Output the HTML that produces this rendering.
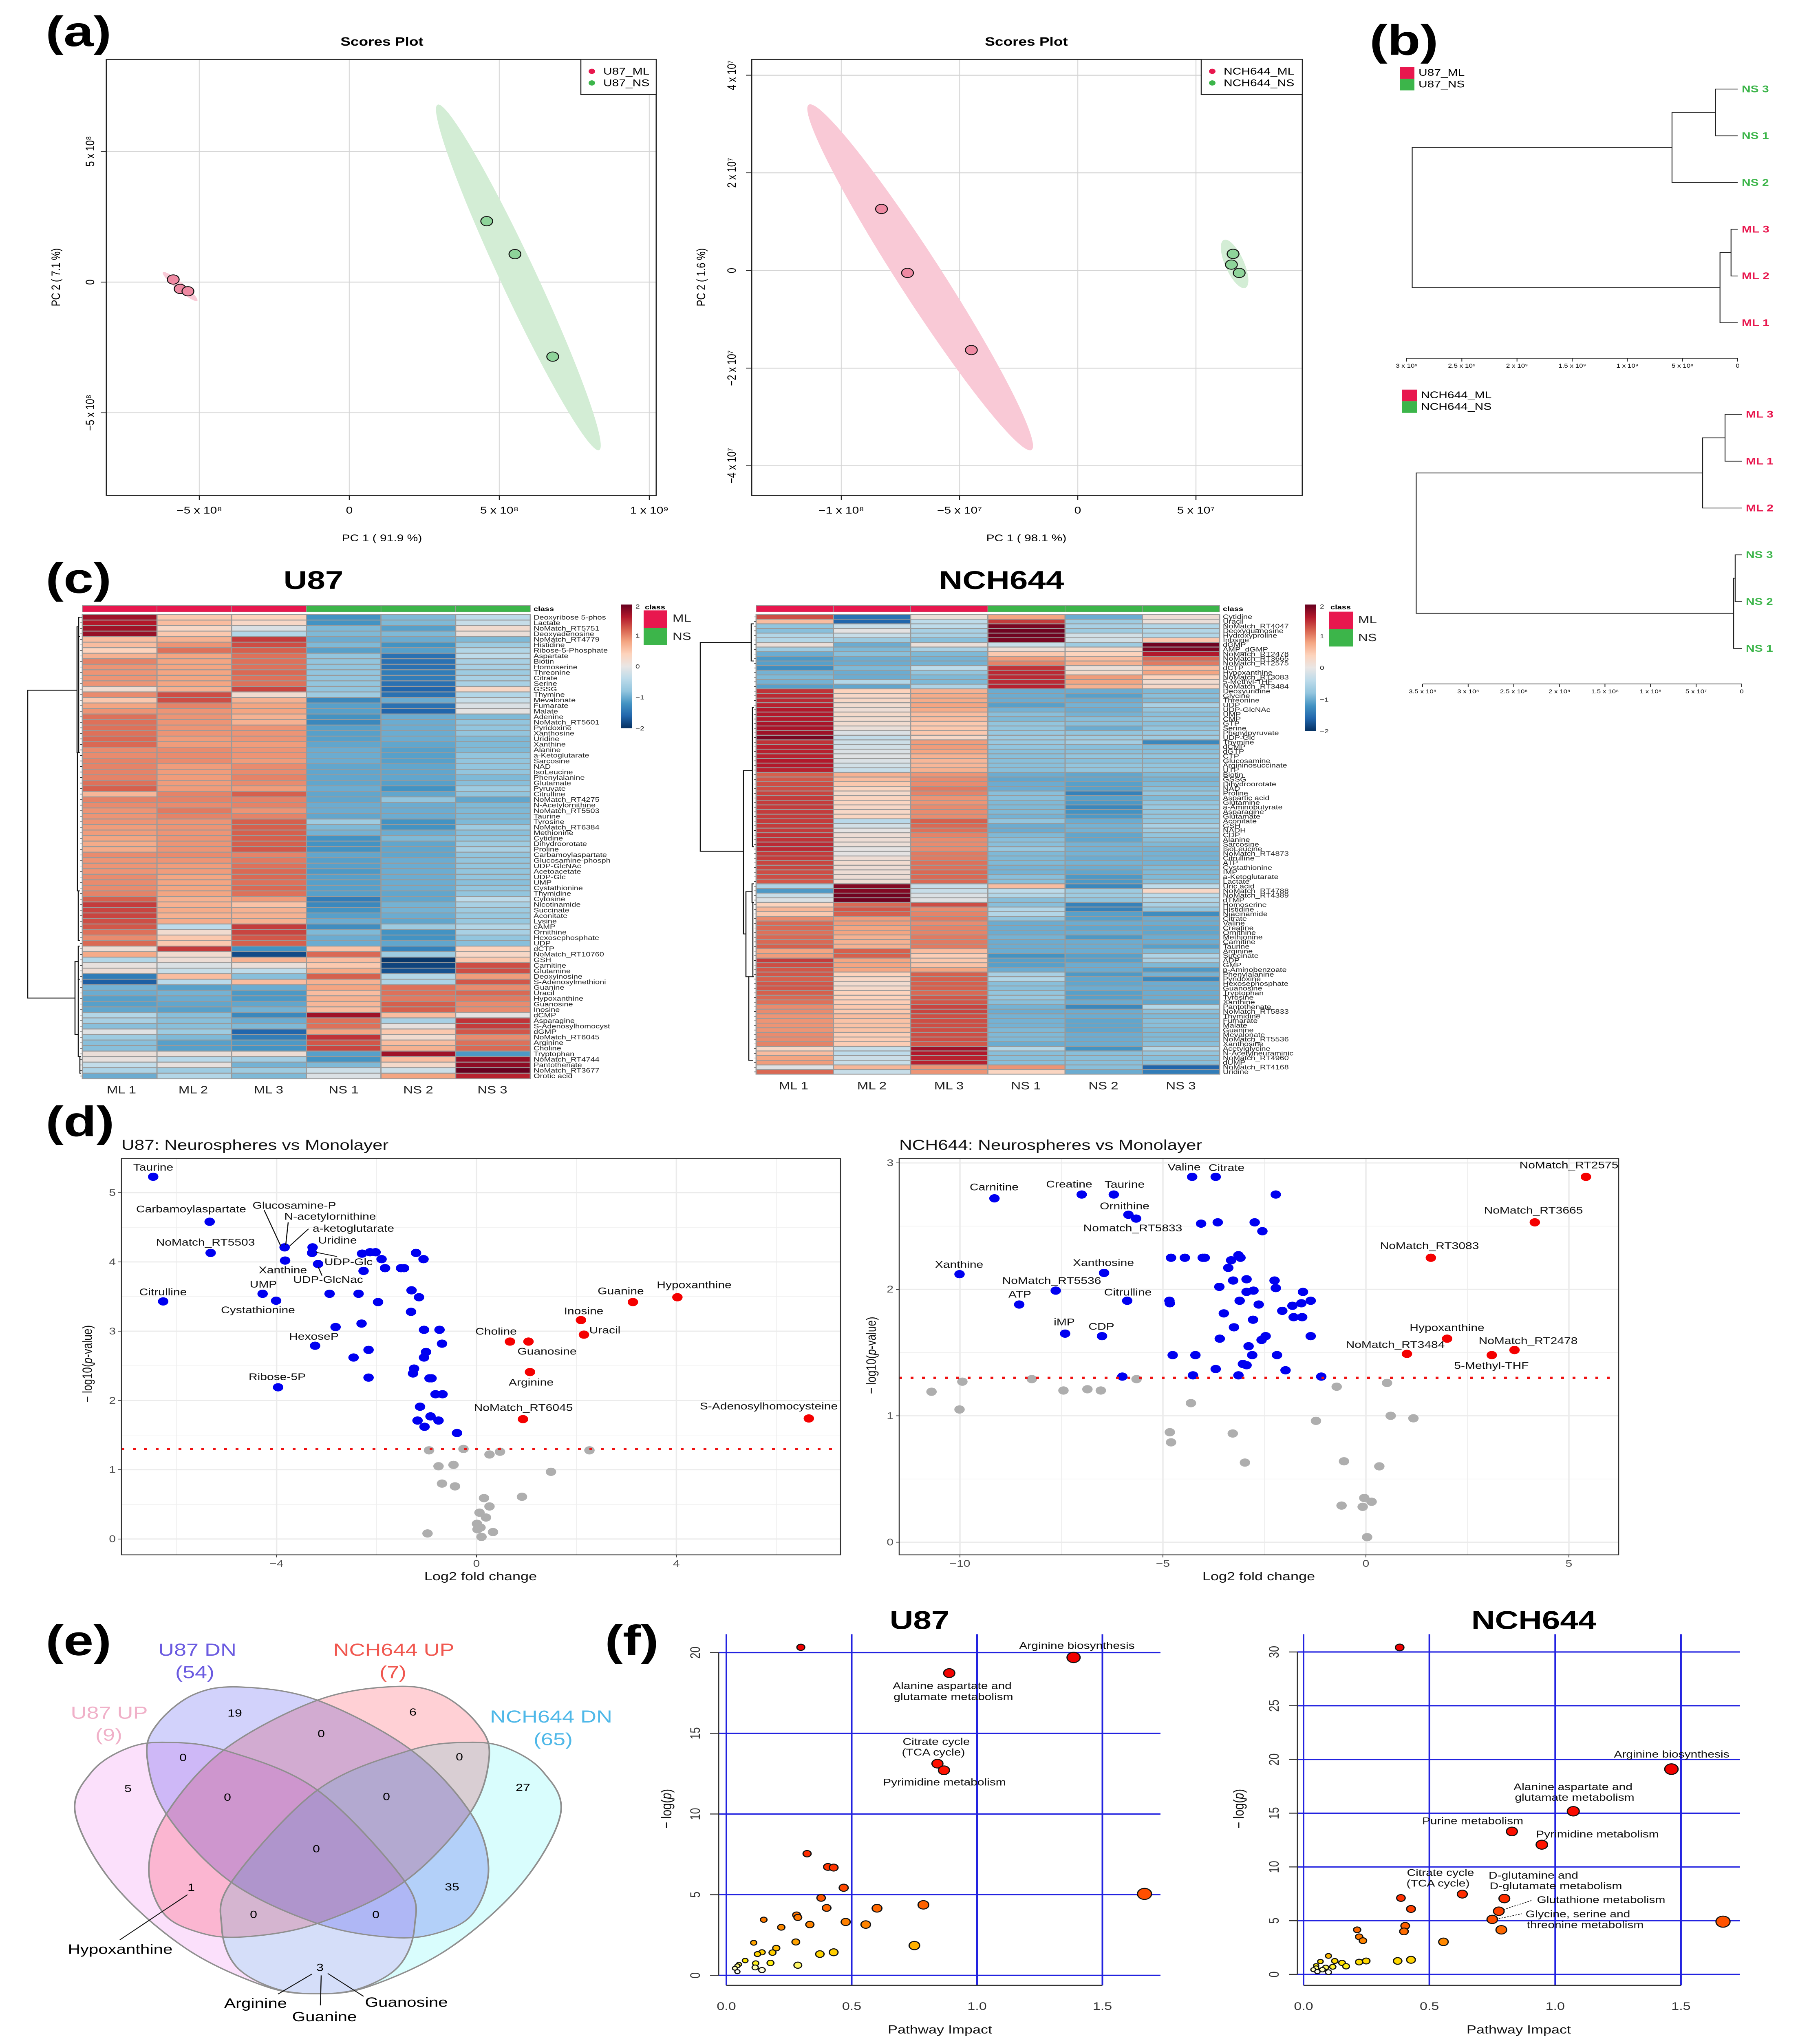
<!DOCTYPE html>
<html lang="en">
<head>
<meta charset="utf-8">
<title>Metabolomics figure</title>
<style>
html,body{margin:0;padding:0;background:#fff;width:100%;height:100%;overflow:hidden}
svg{display:block;width:100vw;height:100vh}
text{font-family:"Liberation Sans",sans-serif;dominant-baseline:central;fill:#000}
.panel{font-size:132px;font-weight:700}
.cell-title{font-size:80px;font-weight:700;text-anchor:middle}
.volc{font-size:30px;text-anchor:middle;fill:#111}
.volc-title{font-size:44px;fill:#111}
.volc-axis{font-size:36px;text-anchor:middle;fill:#111}
.venn-count{font-size:32px;text-anchor:middle}
.venn-set{font-size:54px;text-anchor:middle}
.venn-note{font-size:42px;text-anchor:middle}
.path-label{font-size:30px;text-anchor:middle;fill:#111}
.lead{stroke:#111;stroke-width:2.5;fill:none}
</style>
</head>
<body>
<svg id="figure" xmlns="http://www.w3.org/2000/svg" viewBox="0 0 4465 6314" preserveAspectRatio="none">
<defs>
<linearGradient id="rdbu" x1="0" y1="0" x2="0" y2="1">
<stop offset="0" stop-color="#67001f"/><stop offset=".1" stop-color="#b2182b"/><stop offset=".2" stop-color="#d6604d"/><stop offset=".3" stop-color="#f4a582"/><stop offset=".4" stop-color="#fdd3bc"/><stop offset=".5" stop-color="#e9e6e5"/><stop offset=".6" stop-color="#bddbea"/><stop offset=".7" stop-color="#92c5de"/><stop offset=".8" stop-color="#4393c3"/><stop offset=".9" stop-color="#2166ac"/><stop offset="1" stop-color="#053061"/>
</linearGradient>
</defs>
<rect width="4465" height="6314" fill="#fff"/>
<g id="charts"></g>

<text class="panel" x="112" y="98">(a)</text>
<text class="panel" x="3360" y="125">(b)</text>
<text class="panel" x="112" y="1792">(c)</text>
<text class="panel" x="112" y="3475">(d)</text>
<text class="panel" x="112" y="5083">(e)</text>
<text class="panel" x="1484" y="5083">(f)</text>

<text class="cell-title" x="769" y="1798">U87</text>
<text class="cell-title" x="2457" y="1798">NCH644</text>
<text class="cell-title" x="2256" y="5020">U87</text>
<text class="cell-title" x="3763" y="5020">NCH644</text>

<g>
<text class="volc-title" x="298" y="3548">U87: Neurospheres vs Monolayer</text>
<text class="volc-axis" x="1179" y="4884">Log2 fold change</text>
<text class="volc-axis" style="font-size:33px" transform="translate(215 4225) rotate(-90)">− log10(<tspan font-style="italic">p</tspan>-value)</text>
<path class="lead" d="M648 3749L689 3861M707 3787L701 3857M757 3807L710 3861M776 3880L827 3893M781 3926L790 3952"/>
<text class="volc" x="376" y="3617">Taurine</text>
<text class="volc" x="469" y="3746">Carbamoylaspartate</text>
<text class="volc" x="722" y="3735">Glucosamine-P</text>
<text class="volc" x="810" y="3769">N-acetylornithine</text>
<text class="volc" x="867" y="3806">a-ketoglutarate</text>
<text class="volc" x="828" y="3843">Uridine</text>
<text class="volc" x="504" y="3849">NoMatch_RT5503</text>
<text class="volc" x="855" y="3910">UDP-Glc</text>
<text class="volc" x="694" y="3935">Xanthine</text>
<text class="volc" x="805" y="3965">UDP-GlcNac</text>
<text class="volc" x="646" y="3979">UMP</text>
<text class="volc" x="400" y="4003">Citrulline</text>
<text class="volc" x="633" y="4059">Cystathionine</text>
<text class="volc" x="1703" y="3981">Hypoxanthine</text>
<text class="volc" x="1523" y="4000">Guanine</text>
<text class="volc" x="1432" y="4062">Inosine</text>
<text class="volc" x="1484" y="4121">Uracil</text>
<text class="volc" x="1217" y="4125">Choline</text>
<text class="volc" x="1342" y="4187">Guanosine</text>
<text class="volc" x="770" y="4141">HexoseP</text>
<text class="volc" x="680" y="4266">Ribose-5P</text>
<text class="volc" x="1303" y="4283">Arginine</text>
<text class="volc" x="1284" y="4361">NoMatch_RT6045</text>
<text class="volc" x="1886" y="4357">S-Adenosylhomocysteine</text>
</g>

<g>
<text class="volc-title" x="2206" y="3548">NCH644: Neurospheres vs Monolayer</text>
<text class="volc-axis" x="3088" y="4884">Log2 fold change</text>
<text class="volc-axis" style="font-size:33px" transform="translate(2138 4199) rotate(-90)">− log10(<tspan font-style="italic">p</tspan>-value)</text>
<text class="volc" x="2905" y="3616">Valine</text>
<text class="volc" x="3009" y="3618">Citrate</text>
<text class="volc" x="3849" y="3610">NoMatch_RT2575</text>
<text class="volc" x="2439" y="3678">Carnitine</text>
<text class="volc" x="2623" y="3669">Creatine</text>
<text class="volc" x="2759" y="3670">Taurine</text>
<text class="volc" x="2759" y="3737">Ornithine</text>
<text class="volc" x="3762" y="3750">NoMatch_RT3665</text>
<text class="volc" x="2779" y="3805">Nomatch_RT5833</text>
<text class="volc" x="3507" y="3860">NoMatch_RT3083</text>
<text class="volc" x="2707" y="3912">Xanthosine</text>
<text class="volc" x="2353" y="3918">Xanthine</text>
<text class="volc" x="2580" y="3968">NoMatch_RT5536</text>
<text class="volc" x="2502" y="4010">ATP</text>
<text class="volc" x="2767" y="4004">Citrulline</text>
<text class="volc" x="2611" y="4096">iMP</text>
<text class="volc" x="2702" y="4110">CDP</text>
<text class="volc" x="3550" y="4114">Hypoxanthine</text>
<text class="volc" x="3749" y="4154">NoMatch_RT2478</text>
<text class="volc" x="3423" y="4166">NoMatch_RT3484</text>
<text class="volc" x="3659" y="4231">5-Methyl-THF</text>
</g>

<g>
<text class="venn-set" x="484" y="5112" style="fill:#6a5ae0">U87 DN</text>
<text class="venn-set" x="478" y="5181" style="fill:#6a5ae0">(54)</text>
<text class="venn-set" x="966" y="5112" style="fill:#f0574f">NCH644 UP</text>
<text class="venn-set" x="964" y="5181" style="fill:#f0574f">(7)</text>
<text class="venn-set" x="268" y="5307" style="fill:#f0b0c8">U87 UP</text>
<text class="venn-set" x="267" y="5375" style="fill:#f0b0c8">(9)</text>
<text class="venn-set" x="1352" y="5319" style="fill:#4fb8e8">NCH644 DN</text>
<text class="venn-set" x="1357" y="5389" style="fill:#4fb8e8">(65)</text>
<text class="venn-count" x="576" y="5308">19</text>
<text class="venn-count" x="1013" y="5305">6</text>
<text class="venn-count" x="788" y="5372">0</text>
<text class="venn-count" x="449" y="5446">0</text>
<text class="venn-count" x="1127" y="5444">0</text>
<text class="venn-count" x="314" y="5542">5</text>
<text class="venn-count" x="1283" y="5539">27</text>
<text class="venn-count" x="558" y="5569">0</text>
<text class="venn-count" x="948" y="5567">0</text>
<text class="venn-count" x="776" y="5729">0</text>
<text class="venn-count" x="469" y="5848">1</text>
<text class="venn-count" x="1109" y="5847">35</text>
<text class="venn-count" x="622" y="5932">0</text>
<text class="venn-count" x="922" y="5933">0</text>
<text class="venn-count" x="785" y="6096">3</text>
<path class="lead" d="M460 5870L294 6010M765 6116L682 6178M788 6120L786 6213M804 6114L892 6185"/>
<text class="venn-note" x="295" y="6040">Hypoxanthine</text>
<text class="venn-note" x="627" y="6207">Arginine</text>
<text class="venn-note" x="796" y="6249">Guanine</text>
<text class="venn-note" x="997" y="6204">Guanosine</text>
</g>

<g>
<text class="path-label" x="2642" y="5099">Arginine biosynthesis</text>
<text class="path-label" x="2336" y="5223">Alanine aspartate and</text>
<text class="path-label" x="2339" y="5257">glutamate metabolism</text>
<text class="path-label" x="2297" y="5396">Citrate cycle</text>
<text class="path-label" x="2290" y="5429">(TCA cycle)</text>
<text class="path-label" x="2317" y="5522">Pyrimidine metabolism</text>
<text class="volc-axis" x="2306" y="6288">Pathway Impact</text>
<text class="volc-axis" transform="translate(1635 5604) rotate(-90)">− log(<tspan font-style="italic">p</tspan>)</text>
</g>
<g>
<text class="path-label" x="4101" y="5435">Arginine biosynthesis</text>
<text class="path-label" x="3859" y="5536">Alanine aspartate and</text>
<text class="path-label" x="3863" y="5569">glutamate metabolism</text>
<text class="path-label" x="3613" y="5642">Purine metabolism</text>
<text class="path-label" x="3919" y="5683">Pyrimidine metabolism</text>
<text class="path-label" x="3534" y="5802">Citrate cycle</text>
<text class="path-label" x="3528" y="5835">(TCA cycle)</text>
<text class="path-label" x="3762" y="5810">D-glutamine and</text>
<text class="path-label" x="3817" y="5843">D-glutamate metabolism</text>
<text class="path-label" x="3928" y="5886">Glutathione metabolism</text>
<text class="path-label" x="3871" y="5930">Glycine, serine and</text>
<text class="path-label" x="3889" y="5964">threonine metabolism</text>
<path d="M3689 5916L3757 5888M3670 5946L3734 5929" stroke="#111" stroke-width="2" stroke-dasharray="4 3" fill="none"/>
<text class="volc-axis" x="3726" y="6288">Pathway Impact</text>
<text class="volc-axis" transform="translate(3039 5604) rotate(-90)">− log(<tspan font-style="italic">p</tspan>)</text>
</g>
</svg>

<script>
/* ---------- PCA data ---------- */
const u87MlPc1=[-5.87e8,-5.64e8,-5.38e8];
const u87MlPc2=[0.10e8,-0.26e8,-0.35e8];
const u87NsPc1=[4.58e8,5.52e8,6.78e8];
const u87NsPc2=[2.33e8,1.07e8,-2.85e8];
const u87EllipseMl=[-6.21e8,0.38e8,-5.07e8,-0.72e8,0.18];
const u87EllipseNs=[2.95e8,6.79e8,8.32e8,-6.43e8,0.079];
const u87PcXTicks=[-5e8,0,5e8,1e9];
const u87PcYTicks=[5e8,0,-5e8];
const nchMlPc1=[-8.3e7,-7.2e7,-4.5e7];
const nchMlPc2=[1.26e7,-0.05e7,-1.63e7];
const nchNsPc1=[6.57e7,6.5e7,6.83e7];
const nchNsPc2=[0.34e7,0.12e7,-0.05e7];
const nchEllipseMl=[-11.36e7,3.4e7,-1.97e7,-3.68e7,0.093];
const nchEllipseNs=[6.2e7,0.63e7,7.07e7,-0.36e7,0.3];
const nchPcXTicks=[-1e8,-5e7,0,5e7];
const nchPcYTicks=[4e7,2e7,0,-2e7,-4e7];

/* ---------- Dendrogram data ---------- */
const u87DendroLeaves=['NS 3','NS 1','NS 2','ML 3','ML 2','ML 1'];
const u87DendroMerges=[[0,1],[6,2],[3,4],[8,5],[7,9]];
const u87DendroHeights=[2e8,5.95e8,0.6e8,1.6e8,2.95e9];
const u87DendroTicks=[3e9,2.5e9,2e9,1.5e9,1e9,5e8,0];
const nchDendroLeaves=['ML 3','ML 1','ML 2','NS 3','NS 2','NS 1'];
const nchDendroMerges=[[0,1],[6,2],[3,4],[8,5],[7,9]];
const nchDendroHeights=[1.83e7,4.29e7,0.72e7,0.89e7,3.57e8];
const nchDendroTicks=[3.5e8,3e8,2.5e8,2e8,1.5e8,1e8,5e7,0];

/* ---------- Heatmap data ---------- */
const heatColumnsU87=['ML 1','ML 2','ML 3','NS 1','NS 2','NS 3'];
const heatRowsU87=['Deoxyribose 5-phos','Lactate','NoMatch_RT5751','Deoxyadenosine','NoMatch_RT4779','Histidine','Ribose-5-Phosphate','Aspartate','Biotin','Homoserine','Threonine','Citrate','Serine','GSSG','Thymine','Mevalonate','Fumarate','Malate','Adenine','NoMatch_RT5601','Pyridoxine','Xanthosine','Uridine','Xanthine','Alanine','a-Ketoglutarate','Sarcosine','NAD','IsoLeucine','Phenylalanine','Glutamate','Pyruvate','Citrulline','NoMatch_RT4275','N-Acetylornithine','NoMatch_RT5503','Taurine','Tyrosine','NoMatch_RT6384','Methionine','Cytidine','Dihydroorotate','Proline','Carbamoylaspartate','Glucosamine-phosph','UDP-GlcNAc','Acetoacetate','UDP-Glc','UMP','Cystathionine','Thymidine','Cytosine','Nicotinamide','Succinate','Aconitate','Lysine','cAMP','Ornithine','Hexosephosphate','UDP','dCTP','NoMatch_RT10760','GSH','Carnitine','Glutamine','Deoxyinosine','S-Adenosylmethioni','Guanine','Uracil','Hypoxanthine','Guanosine','Inosine','dCMP','Asparagine','S-Adenosylhomocyst','dGMP','NoMatch_RT6045','Arginine','Choline','Tryptophan','NoMatch_RT4744','Pantothenate','NoMatch_RT3677','Orotic acid'];
const heatValuesU87=[
[1.7,.5,.4,-1.2,-.9,-.4],[1.6,.6,.3,-1.2,-.9,-.3],[1.7,.3,-.1,-.9,-1.1,.2],[1.75,.5,-.5,-.9,-.9,.1],[.6,.7,1.4,-1,-1,-.9],[.6,.9,1.3,-.9,-1.2,-.7],[.4,1.1,1.2,-1.1,-1.1,-.5],[.7,.8,1.1,-.8,-1.5,-.4],[1,.8,1.1,-.8,-1.5,-.6],[.9,.8,1.1,-.8,-1.5,-.6],[.9,.8,1.15,-.8,-1.4,-.7],[.9,.8,1.1,-.8,-1.4,-.6],[.9,.8,1.1,-.8,-1.5,-.6],[.2,.7,1.35,-.8,-1.6,.3],[.95,1.3,.2,-.7,-1.5,-.5],[.5,1.3,.7,-1.3,-1,-.3],[.8,1,.8,-1.1,-1.5,-.1],[.9,.9,.8,-1.1,-1.6,0],[1.1,.9,.7,-1.2,-1,-.9],[1.1,.9,.7,-1.3,-1,-.8],[1.1,.9,.9,-1.1,-1,-.8],[1.1,.9,.9,-1.1,-1,-.8],[1.15,.85,.9,-1.1,-1,-.9],[1.15,.85,.85,-1.05,-1.05,-.9],[.95,.95,.9,-1,-1.1,-.9],[.95,.95,.9,-1,-1.1,-.8],[1,.95,.85,-1,-1.1,-.8],[1,.85,.95,-1.05,-1.05,-.8],[1,.85,.95,-1.05,-1.05,-.8],[1,.85,1,-1.05,-1.05,-.9],[1.1,.85,.95,-1.05,-1.1,-.85],[1.2,.85,.85,-1,-1.2,-.7],[.65,1,1.2,-1.05,-1.05,-.8],[1,1,1,-1.05,-.8,-1.05],[.95,.95,1,-1,-1,-.9],[.9,1.05,.9,-1,-1,-.9],[.9,1,1,-1.05,-1,-.9],[.9,.9,1.2,-.7,-1.2,-.9],[.85,.9,1.2,-.9,-1.2,-.7],[.85,.9,1.2,-.95,-1,-.85],[.8,.9,1.2,-1.2,-.9,-.8],[.75,.9,1.2,-1.2,-1.05,-.7],[.75,.9,1.25,-1.2,-1.05,-.6],[.95,.95,1,-1.05,-1.05,-.8],[.9,.9,1.05,-1.1,-1,-.8],[.9,.85,1.1,-1.1,-1,-.8],[.9,.85,1.15,-1.15,-1,-.8],[.95,.8,1.15,-1.1,-1,-.8],[.95,.8,1.1,-1.1,-1,-.85],[.95,.8,1.15,-1.1,-1,-.8],[1,.8,1.1,-1.1,-1.05,-.8],[1.2,.7,.85,-1.4,-1.05,-.4],[1.4,.7,.55,-1.3,-.95,-.6],[1.35,.75,.7,-1.2,-.95,-.7],[1.35,.7,.7,-1.1,-1,-.75],[1.3,.75,.7,-1,-1.05,-.75],[1.25,-.4,1.4,-1.25,-.7,-.5],[1.1,.2,1.35,-.9,-1.2,-.6],[.95,.5,1.25,-1,-1.2,-.8],[1.15,.5,1.2,-1,-1.05,-.85],[.15,1.4,-1.2,.55,-1.35,.4],[.75,.2,-1.8,1.15,-.7,.3],[-.5,.15,.7,.6,-1.95,.5],[.05,-.1,.1,.5,-1.85,1.3],[.15,-.3,-.4,.75,-1.75,1.3],[-1.4,.6,-.85,1.2,-.5,.85],[-1.65,-.45,.6,.7,-.55,1.25],[-.95,-1.1,-1,.8,1.1,.95],[-1,-.95,-1.15,.6,1.1,1.15],[-1.1,-1,-1.15,.7,1.05,1.05],[-1.1,-1.05,-1.05,.65,1.2,.95],[-1.05,-1.1,-.95,.6,1.2,.95],[-.5,-.85,-1.3,1.7,.6,0],[-.6,-.85,-1,1.1,-.6,1.45],[-.85,-.85,-.9,1.1,.05,1.4],[-.05,-.7,-1.6,.8,.5,1.25],[-.7,-.9,-1.4,1.45,.2,.95],[-.85,-1.1,-1.15,1.25,.6,1.1],[-.85,-1.1,-1.2,1.35,.7,1.15],[.1,.1,.15,-1.1,1.7,-1.15],[.05,-.45,-.65,-1.2,.6,1.75],[-.35,.05,-.95,-.9,.25,1.8],[-.55,-.7,-.7,-.25,-.25,2],[-1,-.5,-.9,-.1,.8,1.55]];
const heatRowsNch=['Cytidine','Uracil','NoMatch_RT4047','Deoxyguanosine','Hydroxyproline','Inosine','dGMP','AMP_dGMP','NoMatch_RT2478','NoMatch_RT3665','NoMatch_RT2575','dCTP','Hypoxanthine','NoMatch_RT3083','5-Methyl-THF','NoMatch_RT3484','Deoxyuridine','Glycine','Threonine','UDP','UDP-GlcNAc','UMP','CMP','GTP','Serine','Phenylpyruvate','UDP-Glc','Thymine','dCMP','dGTP','CTP','Glucosamine','Argininosuccinate','UTP','Biotin','GSSG','Dihydroorotate','NAD','Proline','Aspartic acid','Glutamine','a-Aminobutyrate','Asparagine','Glutamate','Aconitate','GSH','NADH','CDP','Alanine','Sarcosine','IsoLeucine','NoMatch_RT4873','Citrulline','ATP','Cystathionine','IMP','a-Ketoglutarate','Lactate','Uric acid','NoMatch_RT4788','NoMatch_RT4389','dTMP','Homoserine','Histidine','Niacinamide','Citrate','Valine','Creatine','Ornithine','Methionine','Carnitine','Taurine','Arginine','Succinate','ADP','GMP','p-Aminobenzoate','Phenylalanine','Pyridoxine','Hexosephosphate','Guanosine','Tryptophan','Tyrosine','Xanthine','Pantothenate','NoMatch_RT5833','Thymidine','Fumarate','Malate','Guanine','Mevalonate','NoMatch_RT5536','Xanthosine','Acetylglycine','N-Acetylneuraminic','NoMatch_RT4960','dUMP','NoMatch_RT4168','Uridine'];
const heatValuesNch=[
[1.3,-1.5,.1,.8,-1,.15],[.6,-1.6,-.4,1.4,-.7,.1],[-.8,-.3,-.4,1.9,-.6,-.5],[-.85,0,-.6,1.95,-.7,-.5],[-.5,-.3,-.6,1.95,-.2,-.5],[-.5,-.7,-.85,1.9,-.2,.5],[.1,-1,.1,-.3,-.7,1.95],[-.7,-.9,-.6,.15,.25,1.9],[-1,-.85,-.9,.5,.4,1.6],[-1.15,-1,-.95,.85,.6,1.15],[-1.1,-1,-.95,1,.7,1.05],[-1.25,-.9,-.4,1.45,.1,.6],[-.95,-1,-.8,1.5,.25,.8],[-.9,-1,-.9,1.5,.85,.4],[-.95,-.5,-.9,1.5,.8,.2],[-1.1,-1.05,-.55,1.55,.7,.3],[1.45,.4,.7,-1,-1,-.9],[1.5,.3,.75,-1,-1.1,-.85],[1.5,.3,.75,-1,-1,-.9],[1.55,.2,.8,-1.1,-.95,-.6],[1.6,.15,.75,-.95,-1,-.8],[1.6,.25,.6,-.85,-.95,-.85],[1.6,.2,.6,-.9,-.85,-.8],[1.65,.2,.5,-.8,-.85,-.85],[1.65,.1,.5,-.8,-1,-.8],[1.7,-.1,.5,-.75,-.8,-.75],[1.9,-.35,.3,-.7,-.7,-.7],[1.45,-.25,.85,-.75,-.65,-1.3],[1.55,-.2,.85,-.8,-.85,-.9],[1.55,-.1,.8,-.85,-.85,-.85],[1.55,-.05,.7,-.85,-.8,-.8],[1.6,-.1,.65,-.85,-.85,-.85],[1.6,-.2,.65,-.85,-.8,-.8],[1.55,-.3,.7,-.85,-.8,-.8],[1.2,.7,.9,-1,-1.05,-.9],[1.25,.6,.95,-1.05,-1.05,-.95],[1.3,.5,.95,-1,-1.1,-.9],[1.3,.35,1.05,-1,-1.1,-.85],[1.35,.25,1,-.85,-1.35,-.8],[1.4,.35,.9,-.85,-1.1,-.9],[1.4,.35,.9,-.9,-1.15,-.8],[1.4,.3,.95,-.9,-1.3,-.75],[1.4,.3,.95,-.9,-1.2,-.8],[1.4,.35,.95,-.95,-1.15,-.8],[1.4,-.45,1.2,-.8,-1,-.8],[1.4,-.2,1.15,-1,-.95,-.6],[1.4,0,1.1,-1,-.95,-.7],[1.45,.15,1,-.9,-1.05,-.8],[1.45,.15,.95,-.85,-1.05,-.85],[1.5,.12,.95,-.85,-.95,-.9],[1.5,0,.95,-.75,-.95,-.95],[1.4,0,1.05,-.9,-.95,-.95],[1.4,.15,1.05,-.9,-1,-.95],[1.35,.2,1.1,-.9,-.95,-.95],[1.35,.15,1.1,-.95,-1,-.9],[1.3,.15,1.15,-.95,-1.05,-.9],[1.3,.15,1.15,-.85,-1.15,-.9],[1.25,.15,1.15,-.85,-1.15,-.85],[-.55,1.85,-.3,.6,-1.3,-.4],[-1.15,1.85,-.3,-.4,-.7,.3],[-.3,1.95,-.1,-.5,-.7,-.4],[-.1,1.95,-.05,-.85,-.8,-.5],[.4,1.15,1.3,-.85,-1.35,-.6],[.65,1.25,.95,-.5,-1.35,-.8],[.5,1.2,1,-.5,-1.1,-1.25],[.95,.85,1.05,-.8,-1.1,-1],[1.15,.85,.95,-1,-1,-1],[1.15,.8,1,-1,-1.05,-1.05],[1.1,.8,1,-1,-1,-1.05],[1.15,.7,1.05,-.95,-1.15,-1],[1.15,.7,1.05,-1,-1,-1],[1.2,.7,1.05,-1,-1,-1.1],[.8,1.2,.6,-1,-1,-.9],[.85,1.2,.45,-1.2,-1.1,-.55],[1.4,.8,.5,-1.1,-1.1,-.6],[1.3,.8,.55,-1.1,-1,-.9],[1.25,.8,.8,-1,-1,-1.15],[1.25,.4,1.2,-.6,-1.15,-.95],[1.2,.3,1.2,-.5,-1.05,-1.3],[1.25,.2,1.2,-.85,-1.05,-1],[1.25,.25,1.2,-.85,-1,-1],[1.2,.4,1.15,-.8,-1.1,-1],[1.15,.4,1.25,-.75,-1.1,-1],[1.1,.45,1.25,-.85,-1,-1.05],[.95,.5,1.35,-.95,-1.3,-.5],[.95,.5,1.35,-1,-1,-.85],[.9,.6,1.3,-.95,-1,-.9],[.9,.55,1.3,-.95,-1.05,-.85],[.9,.55,1.3,-.95,-1.05,-.85],[.9,.55,1.3,-.9,-1.05,-.9],[.95,.45,1.3,-.9,-1,-.9],[.95,.45,1.3,-.9,-1,-.9],[1,.45,1.25,-1,-1,-.85],[.3,-.3,1.7,-.5,-1.2,-.5],[.6,-.4,1.6,-.85,-.85,-.8],[.8,-.25,1.55,-.85,-.85,-.85],[.85,-.3,1.55,-.85,-.85,-.85],[-.05,.65,.9,.9,-.85,-1.6],[1.15,-.3,.9,.35,-1,-1.4]];
const colorbarTicks=[2,1,0,-1,-2];

/* ---------- Volcano data: [log2 fold change, -log10 p] ---------- */
const u87Down=[[-6.47,5.23],[-5.34,4.58],[-5.32,4.13],[-3.84,4.21],[-3.83,4.02],[-3.28,4.21],[-3.29,4.13],[-3.17,3.97],[-2.29,4.12],[-2.13,4.14],[-2.02,4.14],[-1.9,4.04],[-2.26,3.87],[-1.83,3.91],[-1.51,3.91],[-1.45,3.91],[-1.21,4.13],[-1.06,4.04],[-4.28,3.54],[-4.01,3.44],[-2.94,3.54],[-2.36,3.54],[-1.97,3.42],[-1.3,3.59],[-1.15,3.49],[-1.31,3.28],[-6.27,3.43],[-2.82,3.06],[-2.3,3.11],[-1.05,3.02],[-.74,3.02],[-3.23,2.79],[-.69,2.82],[-2.16,2.73],[-1.01,2.7],[-1.05,2.62],[-2.46,2.62],[-1.25,2.46],[-1.27,2.39],[-2.16,2.33],[-.94,2.32],[-.9,2.32],[-3.97,2.19],[-.82,2.09],[-.68,2.09],[-1.13,1.91],[-1.18,1.71],[-.92,1.77],[-.76,1.71],[-1.04,1.62],[-.39,1.53]];
const u87Up=[[.67,2.85],[1.04,2.85],[1.07,2.41],[2.09,3.16],[2.15,2.95],[3.13,3.42],[4.02,3.49],[.93,1.73],[6.65,1.74]];
const u87Ns=[[-.95,1.28],[-.26,1.3],[.26,1.22],[.47,1.26],[2.26,1.28],[-.76,1.05],[-.46,1.07],[1.49,.97],[-.69,.8],[-.43,.76],[.91,.61],[.15,.59],[.26,.47],[.06,.38],[.19,.31],[.01,.22],[.08,.165],[.02,.14],[.33,.1],[-.98,.08],[.1,.03]];
const u87VolcXTicks=[-4,0,4];
const u87VolcYTicks=[0,1,2,3,4,5];
const nchDown=[[-4.28,2.89],[-3.7,2.89],[-9.15,2.72],[-7,2.75],[-6.21,2.75],[-2.22,2.75],[-5.85,2.59],[-5.66,2.56],[-4.06,2.52],[-3.65,2.53],[-2.74,2.53],[-2.55,2.46],[-4.8,2.25],[-4.46,2.25],[-4.02,2.25],[-3.97,2.25],[-3.14,2.27],[-3.09,2.25],[-3.32,2.23],[-3.39,2.17],[-10.01,2.12],[-6.45,2.13],[-3.27,2.07],[-2.94,2.08],[-2.25,2.07],[-3.61,2.02],[-2.22,2.01],[-7.64,1.99],[-2.94,1.98],[-2.77,1.99],[-1.55,1.98],[-5.88,1.91],[-4.84,1.91],[-4.83,1.89],[-3.11,1.91],[-8.54,1.88],[-2.64,1.88],[-1.59,1.89],[-1.36,1.91],[-1.81,1.87],[-2.06,1.83],[-3.5,1.81],[-1.78,1.78],[-1.57,1.78],[-2.78,1.76],[-3.25,1.7],[-7.41,1.65],[-6.5,1.63],[-3.6,1.61],[-2.47,1.63],[-2.57,1.6],[-1.36,1.63],[-2.89,1.55],[-4.76,1.48],[-4.2,1.48],[-2.8,1.48],[-2.19,1.48],[-3.03,1.41],[-2.94,1.4],[-3.7,1.37],[-1.98,1.36],[-4.26,1.32],[-3.14,1.32],[-6,1.31],[-1.1,1.31]];
const nchUp=[[5.42,2.89],[4.16,2.53],[1.6,2.25],[2,1.61],[3.66,1.52],[3.1,1.48],[1.01,1.49]];
const nchNs=[[-9.94,1.27],[-8.23,1.29],[-10.7,1.19],[-7.45,1.2],[-6.86,1.21],[-6.53,1.2],[-5.65,1.29],[-10.01,1.05],[-4.31,1.1],[-.72,1.23],[.52,1.26],[-1.23,.96],[.61,1],[1.17,.98],[-4.83,.87],[-4.8,.79],[-3.28,.86],[-2.98,.63],[-.54,.64],[.33,.6],[-.04,.35],[.14,.32],[-.6,.29],[-.08,.28],[.03,.04]];
const nchVolcXTicks=[-10,-5,0,5];
const nchVolcYTicks=[0,1,2,3];

/* ---------- Pathway data: [impact, -log p] ---------- */
const u87Pathways=[[.297,20.33],[1.385,19.7],[.889,18.73],[.842,13.12],[.868,12.71],[.322,7.54],[.405,6.72],[.428,6.68],[.468,5.43],[1.668,5.05],[.378,4.8],[.4,4.18],[.601,4.16],[.786,4.37],[.28,3.74],[.285,3.59],[.149,3.45],[.333,3.15],[.476,3.31],[.556,3.15],[.219,2.98],[.109,2.02],[.277,2.07],[.75,1.85],[.199,1.69],[.142,1.43],[.184,1.41],[.124,1.32],[.373,1.32],[.428,1.43],[.075,.92],[.117,.75],[.176,.77],[.285,.63],[.05,.68],[.044,.59],[.034,.44],[.115,.49],[.142,.33],[.044,.23]];
const u87PathYTicks=[0,5,10,15,20];
const nchPathways=[[.382,30.42],[1.462,19.1],[1.072,15.18],[.828,13.3],[.947,12.07],[.631,7.47],[.387,7.11],[.798,7.06],[.427,6.09],[.776,5.88],[.75,5.12],[1.667,4.91],[.404,4.52],[.399,4],[.786,4.15],[.213,4.15],[.221,3.5],[.236,3.14],[.556,3.03],[.099,1.72],[.067,1.2],[.124,1.25],[.153,1.07],[.169,.76],[.221,1.15],[.249,1.25],[.374,1.25],[.427,1.36],[.116,.71],[.088,.65],[.05,.81],[.05,.6],[.075,.44],[.039,.44],[.055,.26],[.099,.21]];
const nchPathYTicks=[0,5,10,15,20,25,30];
const pathXTicks=[0,.5,1,1.5];

/* ---------- helpers ---------- */
const SVGNS='http://www.w3.org/2000/svg';
const layer=document.getElementById('charts');
function make(parent,tag,attrs,content){
  const el=document.createElementNS(SVGNS,tag);
  for(const k in attrs) el.setAttribute(k,attrs[k]);
  if(content!==undefined) el.textContent=content;
  parent.appendChild(el);
  return el;
}
function group(name){
  const g=make(layer,'g',{});
  
  
  return g;
}
const SUP={'0':'⁰','1':'¹','2':'²','3':'³','4':'⁴','5':'⁵','6':'⁶','7':'⁷','8':'⁸','9':'⁹'};
function sci(v){
  if(v===0) return '0';
  const e=Math.floor(Math.log10(Math.abs(v)));
  const m=Math.round(v/Math.pow(10,e)*100)/100;
  return String(m).replace('-','−')+' x 10'+String(e).split('').map(c=>SUP[c]).join('');
}
function minus(v){return String(v).replace('-','−');}

/* ---------- PCA ---------- */
function drawPca(cfg){
  const g=group(cfg.name);
  const x=v=>cfg.x0+v*cfg.kx, y=v=>cfg.y0-v*cfg.ky;
  const tTitle=make(g,'text',{x:cfg.cx,y:130,'font-size':37,'font-weight':700,'text-anchor':'middle'},'Scores Plot');
  
  
  cfg.xt.forEach(v=>{
    const l=make(g,'line',{x1:x(v),x2:x(v),y1:cfg.top,y2:cfg.bot,stroke:'#dcdcdc','stroke-width':2.5});
    
    
    const m=make(g,'line',{x1:x(v),x2:x(v),y1:cfg.bot,y2:cfg.bot+14,stroke:'#222','stroke-width':2.5});
    
    
    const t=make(g,'text',{x:x(v),y:1581,'font-size':30,'text-anchor':'middle'},sci(v));
    
    
  });
  cfg.yt.forEach(v=>{
    const l=make(g,'line',{x1:cfg.left,x2:cfg.right,y1:y(v),y2:y(v),stroke:'#d4d4d4','stroke-width':3});
    
    
    const m=make(g,'line',{x1:cfg.left-14,x2:cfg.left,y1:y(v),y2:y(v),stroke:'#222','stroke-width':2.5});
    
    
    const t=make(g,'text',{transform:`translate(${cfg.yTickX} ${y(v)}) rotate(-90)`,'font-size':30,'text-anchor':'middle'},sci(v));
    
    
  });
  [[cfg.e1,'#f9c9d6'],[cfg.e2,'#d3edd5']].forEach(([e,c])=>{
    const ax=x(e[0]),ay=y(e[1]),bx=x(e[2]),by=y(e[3]);
    const len=Math.hypot(bx-ax,by-ay)/2;
    const ang=Math.atan2(by-ay,bx-ax)*180/Math.PI;
    const el=make(g,'ellipse',{cx:(ax+bx)/2,cy:(ay+by)/2,rx:len,ry:len*e[4],fill:c,transform:`rotate(${ang} ${(ax+bx)/2} ${(ay+by)/2})`});
    
    
  });
  [[cfg.ax,cfg.ay,'#ef8aa3'],[cfg.bx,cfg.by,'#8ed49a']].forEach(([xs,ys,c])=>{
    xs.forEach((v,i)=>{
      const p=make(g,'circle',{cx:x(v),cy:y(ys[i]),r:14.5,fill:c,stroke:'#111','stroke-width':2.5});
      
      
    });
  });
  const box=make(g,'rect',{x:cfg.left,y:cfg.top,width:cfg.right-cfg.left,height:cfg.bot-cfg.top,fill:'none',stroke:'#222','stroke-width':3});
  
  
  const lg=make(g,'rect',{x:cfg.legX,y:cfg.top,width:cfg.right-cfg.legX,height:109,fill:'#fff',stroke:'#222','stroke-width':2.5});
  
  
  [[cfg.names[0],'#e8174e',221],[cfg.names[1],'#3cb54a',257]].forEach(([n,c,yy])=>{
    const d=make(g,'circle',{cx:cfg.legX+27,cy:yy,r:8,fill:c});
    
    
    const t=make(g,'text',{x:cfg.legX+55,y:yy,'font-size':30},n);
    
    
  });
  const xl=make(g,'text',{x:cfg.cx,y:1667,'font-size':30,'text-anchor':'middle'},cfg.xLabel);
  
  
  const yl=make(g,'text',{transform:`translate(${cfg.yLabX} 859) rotate(-90)`,'font-size':30,'text-anchor':'middle'},cfg.yLabel);
  
  
}
drawPca({name:'pca-u87',x0:857,kx:368/5e8,y0:874,ky:405/5e8,left:261,right:1610,top:184,bot:1535,cx:937,yTickX:221,yLabX:137,legX:1425,
  xt:u87PcXTicks,yt:u87PcYTicks,e1:u87EllipseMl,e2:u87EllipseNs,ax:u87MlPc1,ay:u87MlPc2,bx:u87NsPc1,by:u87NsPc2,names:['U87_ML','U87_NS'],xLabel:'PC 1 ( 91.9 %)',yLabel:'PC 2 ( 7.1 %)'});
drawPca({name:'pca-nch644',x0:2644,kx:290/5e7,y0:838,ky:302.5/2e7,left:1844,right:3195,top:184,bot:1535,cx:2518,yTickX:1795,yLabX:1720,legX:2947,
  xt:nchPcXTicks,yt:nchPcYTicks,e1:nchEllipseMl,e2:nchEllipseNs,ax:nchMlPc1,ay:nchMlPc2,bx:nchNsPc1,by:nchNsPc2,names:['NCH644_ML','NCH644_NS'],xLabel:'PC 1 ( 98.1 %)',yLabel:'PC 2 ( 1.6 %)'});

/* ---------- sample dendrograms ---------- */
function drawDendro(cfg){
  const g=group(cfg.name);
  const x=d=>cfg.tip-d*cfg.k;
  const nodes=cfg.leaves.map((n,i)=>({y:cfg.y0+i*cfg.step,x:cfg.tip}));
  cfg.merges.forEach((m,i)=>{
    const a=nodes[m[0]],b=nodes[m[1]],hx=x(cfg.heights[i]);
    const p=make(g,'path',{d:`M${a.x} ${a.y}H${hx}V${b.y}H${b.x}`,fill:'none',stroke:'#222','stroke-width':2.2});
    
    
    nodes.push({x:hx,y:(a.y+b.y)/2});
  });
  cfg.leaves.forEach((n,i)=>{
    const t=make(g,'text',{x:cfg.tip+10,y:nodes[i].y,'font-size':30,'font-weight':700,style:'fill:'+(n[0]==='M'?'#e8174e':'#3cb54a')},n);
    
    
  });
  const ax=make(g,'line',{x1:x(cfg.ticks[0]),x2:cfg.tip,y1:cfg.axisY,y2:cfg.axisY,stroke:'#222','stroke-width':2});
  
  
  cfg.ticks.forEach(v=>{
    const m=make(g,'line',{x1:x(v),x2:x(v),y1:cfg.axisY,y2:cfg.axisY+10,stroke:'#222','stroke-width':2});
    
    
    const t=make(g,'text',{x:x(v),y:cfg.axisY+24,'font-size':17,'text-anchor':'middle'},sci(v));
    
    
  });
  [[cfg.names[0],'#e8174e',cfg.legY],[cfg.names[1],'#3cb54a',cfg.legY+36]].forEach(([n,c,yy])=>{
    const r=make(g,'rect',{x:cfg.legX,y:yy,width:36,height:36,fill:c});
    
    
    const t=make(g,'text',{x:cfg.legX+46,y:yy+17,'font-size':30},n);
    
    
  });
}
drawDendro({name:'dendrogram-u87',tip:4263,k:812/3e9,y0:276,step:144.8,leaves:u87DendroLeaves,merges:u87DendroMerges,heights:u87DendroHeights,ticks:u87DendroTicks,axisY:1110,legX:3434,legY:208,names:['U87_ML','U87_NS']});
drawDendro({name:'dendrogram-nch644',tip:4273,k:783/3.5e8,y0:1284,step:145,leaves:nchDendroLeaves,merges:nchDendroMerges,heights:nchDendroHeights,ticks:nchDendroTicks,axisY:2119,legX:3440,legY:1207,names:['NCH644_ML','NCH644_NS']});

/* ---------- heatmaps ---------- */
const RDBU=[[103,0,31],[178,24,43],[214,96,77],[244,165,130],[253,211,188],[228,226,226],[189,219,234],[146,197,222],[67,147,195],[33,102,172],[5,48,97]];
function heatColor(v){
  const t=Math.min(10,Math.max(0,(2-v)/0.4));
  const i=Math.min(9,Math.floor(t)),f=t-i;
  const c=[0,1,2].map(k=>Math.round(RDBU[i][k]+(RDBU[i+1][k]-RDBU[i][k])*f));
  return `rgb(${c[0]},${c[1]},${c[2]})`;
}
function drawHeat(cfg){
  const g=group(cfg.name);
  const cw=cfg.w/6, rh=cfg.h/cfg.rows.length;
  const cx=i=>cfg.x+i*cw, ry=i=>cfg.y+i*rh;
  heatColumnsU87.forEach((n,i)=>{
    const b=make(g,'rect',{x:cx(i),y:1876,width:cw,height:20,fill:i<3?'#e8174e':'#3cb54a',stroke:'#999','stroke-width':1.5});
    
    
    const t=make(g,'text',{x:cfg.colX[i],y:cfg.colY,'font-size':33,'text-anchor':'middle',style:'fill:#222'},n);
    
    
  });
  const cl=make(g,'text',{x:cfg.x+cfg.w+8,y:1886,'font-size':20,'font-weight':700},'class');
  
  
  cfg.values.forEach((row,r)=>{
    row.forEach((v,c)=>{
      const cell=make(g,'rect',{x:cx(c),y:ry(r),width:cw,height:rh,fill:heatColor(v),stroke:'#9a9a9a','stroke-width':2.8});
      
      
    });
    const lab=make(g,'text',{x:cfg.x+cfg.w+8,y:ry(r)+rh/2,'font-size':20,style:'fill:#222'},cfg.rows[r]);
    
    
    const tick=make(g,'line',{x1:cfg.x-5,x2:cfg.x,y1:ry(r)+rh/2,y2:ry(r)+rh/2,stroke:'#222','stroke-width':1.5});
    
    
  });
  cfg.tree.forEach(b=>{
    const X=h=>cfg.x-h;
    const p=make(g,'path',{d:`M${X(b[3])} ${ry(b[1])}H${X(b[0])}V${ry(b[2])}H${X(b[4])}`,fill:'none',stroke:'#111','stroke-width':2.5});
    
    
  });
  const cb=make(g,'rect',{x:cfg.barX,y:1873,width:27,height:cfg.barH,fill:'url(#rdbu)'});
  
  
  colorbarTicks.forEach(v=>{
    const yy=1873+(2-v)/4*cfg.barH;
    const t=make(g,'text',{x:cfg.barX+36,y:Math.min(Math.max(yy,1879),1873+cfg.barH),'font-size':19,style:'fill:#222'},minus(v));
    
    
  });
  const lc=make(g,'text',{x:cfg.legX+3,y:1881,'font-size':20,'font-weight':700},'class');
  
  
  [['ML','#e8174e',0],['NS','#3cb54a',1]].forEach(([n,c,i])=>{
    const r=make(g,'rect',{x:cfg.legX,y:cfg.legY+i*54,width:58,height:54,fill:c});
    
    
    const t=make(g,'text',{x:cfg.legX+71,y:cfg.legY+25+i*56,'font-size':33,style:'fill:#222'},n);
    
    
  });
}
drawHeat({name:'heatmap-u87',x:202,y:1904,w:1099,h:1438,rows:heatRowsU87,values:heatValuesU87,colX:[298,474,659,843,1026,1208],colY:3377,barX:1523,barH:383,legX:1579,legY:1891,
  tree:[[134,13.7,69.4,13,18],[13,2.2,25,9,9],[9,.5,4,5,5],[9,4,25,6,6],[12,25,50,8,8],[10,50,59,6,6],[18,62.8,76,10,10],[10,60,66,5,5],[10,66,80,5,6],[6,80,83,3,3]]});
drawHeat({name:'heatmap-nch644',x:1855,y:1904,w:1137,h:1424,rows:heatRowsNch,values:heatValuesNch,colX:[1947,2139,2328,2517,2707,2897],colY:3364,barX:3202,barH:392,legX:3261,legY:1895,
  tree:[[137,6,51,12,31],[31,33.6,68.8,9,25],[12,2,10,6,6],[25,59.7,78,10,18],[18,78,96,8,8],[10,58,62,5,5],[9,20,50,5,5],[8,62,78,5,5]]});

/* ---------- volcano plots ---------- */
function drawVolcano(cfg){
  const g=group(cfg.name);
  const x=v=>cfg.x0+v*cfg.kx, y=v=>cfg.y0-v*cfg.ky;
  const bg=make(g,'rect',{x:cfg.left,y:cfg.top,width:cfg.right-cfg.left,height:cfg.bot-cfg.top,fill:'#fff'});
  
  
  const st=cfg.xt[1]-cfg.xt[0];
  const first=cfg.xt[0]-st;
  for(let i=0;i<cfg.xt.length+2;i++){
    const mn=first+st*(i+.5);
    if(x(mn)>cfg.left&&x(mn)<cfg.right){
      const l=make(g,'line',{x1:x(mn),x2:x(mn),y1:cfg.top,y2:cfg.bot,stroke:'#efefef','stroke-width':1.8});
      
      
    }
  }
  cfg.yt.forEach(v=>{
    if(v<cfg.yt[cfg.yt.length-1]){
      const l=make(g,'line',{x1:cfg.left,x2:cfg.right,y1:y(v+.5),y2:y(v+.5),stroke:'#efefef','stroke-width':1.8});
      
      
    }
    const l=make(g,'line',{x1:cfg.left,x2:cfg.right,y1:y(v),y2:y(v),stroke:'#ebebeb','stroke-width':3.5});
    
    
    const m=make(g,'line',{x1:cfg.left-8,x2:cfg.left,y1:y(v),y2:y(v),stroke:'#333','stroke-width':2});
    
    
    const t=make(g,'text',{x:cfg.left-14,y:y(v),'font-size':30,'text-anchor':'end',style:'fill:#4d4d4d'},minus(v));
    
    
  });
  cfg.xt.forEach(v=>{
    const l=make(g,'line',{x1:x(v),x2:x(v),y1:cfg.top,y2:cfg.bot,stroke:'#ebebeb','stroke-width':3.5});
    
    
    const m=make(g,'line',{x1:x(v),x2:x(v),y1:cfg.bot,y2:cfg.bot+8,stroke:'#333','stroke-width':2});
    
    
    const t=make(g,'text',{x:x(v),y:4844,'font-size':30,'text-anchor':'middle',style:'fill:#4d4d4d'},minus(v));
    
    
  });
  [[cfg.grey,'#aeaeae'],[cfg.down,'#0000f0'],[cfg.up,'#f40000']].forEach(([pts,c])=>{
    pts.forEach(p=>{
      const d=make(g,'circle',{cx:x(p[0]),cy:y(p[1]),r:12.8,fill:c});
      
      
    });
  });
  const th=make(g,'line',{x1:cfg.left,x2:cfg.right,y1:y(1.3),y2:y(1.3),stroke:'#f01010','stroke-width':7,'stroke-dasharray':'7 21'});
  
  
  const f=make(g,'rect',{x:cfg.left,y:cfg.top,width:cfg.right-cfg.left,height:cfg.bot-cfg.top,fill:'none',stroke:'#333','stroke-width':2.5});
  
  
}
drawVolcano({name:'volcano-u87',x0:1169,kx:122.6,y0:4768,ky:214.6,left:298,right:2062,top:3589,bot:4817,xt:u87VolcXTicks,yt:u87VolcYTicks,down:u87Down,up:u87Up,grey:u87Ns});
drawVolcano({name:'volcano-nch644',x0:3351,kx:99.6,y0:4778,ky:391.7,left:2206,right:3971,top:3589,bot:4817,xt:nchVolcXTicks,yt:nchVolcYTicks,down:nchDown,up:nchUp,grey:nchNs});

/* ---------- venn ---------- */
const vennU87Up=[[350,515],[510,545],[760,685],[1000,1010],[1027,1170],[985,1310],[880,1390],[760,1410],[620,1385],[400,1250],[200,1020],[95,770],[140,620],[240,535]];
const vennNchDn=[[1170,515],[1010,545],[760,685],[525,1010],[497,1170],[535,1310],[640,1390],[760,1410],[900,1385],[1120,1250],[1320,1020],[1428,770],[1380,620],[1280,535]];
const vennU87Dn=[[550,318],[760,365],[1015,540],[1180,765],[1230,960],[1190,1120],[1100,1190],[970,1210],[760,1160],[520,1010],[345,770],[292,565],[320,450],[420,345]];
const vennNchUp=[[975,316],[760,365],[505,540],[345,770],[297,960],[335,1120],[430,1190],[555,1208],[760,1160],[1000,1010],[1180,765],[1232,565],[1200,450],[1100,345]];
function smooth(pts){
  const P=pts.map(p=>[100+p[0]*.893,4950+p[1]*.87]),n=P.length;
  let d=`M${P[0][0]} ${P[0][1]}`;
  for(let i=0;i<n;i++){
    const a=P[(i-1+n)%n],b=P[i],c=P[(i+1)%n],e=P[(i+2)%n];
    d+=`C${b[0]+(c[0]-a[0])/6} ${b[1]+(c[1]-a[1])/6} ${c[0]-(e[0]-b[0])/6} ${c[1]-(e[1]-b[1])/6} ${c[0]} ${c[1]}`;
  }
  return d+'Z';
}
const vennGroup=group('venn-diagram');
vennGroup.setAttribute('style','isolation:isolate');
[[vennU87Up,'#fbe0fb'],[vennNchDn,'#d9fdfd'],[vennU87Dn,'#d2d2fb'],[vennNchUp,'#ffd0d5']].forEach(([s,c])=>{
  const p=make(vennGroup,'path',{d:smooth(s),fill:c,style:'mix-blend-mode:multiply'});
  
  
});
[vennU87Up,vennNchDn,vennU87Dn,vennNchUp].forEach(s=>{
  const p=make(vennGroup,'path',{d:smooth(s),fill:'none',stroke:'#8f8f8f','stroke-width':4});
  
  
});

/* ---------- pathway plots ---------- */
const HEAT=[[.2,255,255,255],[.5,255,255,176],[.8,255,238,0],[1.4,255,208,0],[2,255,165,0],[3.3,255,128,0],[5,255,80,0],[7,255,48,0],[13,255,16,0],[20,240,0,0]];
function pathColor(v){
  if(v<=HEAT[0][0]) return '#fff';
  for(let i=1;i<HEAT.length;i++){
    if(v<=HEAT[i][0]){
      const a=HEAT[i-1],b=HEAT[i],f=(v-a[0])/(b[0]-a[0]);
      return `rgb(${Math.round(a[1]+(b[1]-a[1])*f)},${Math.round(a[2]+(b[2]-a[2])*f)},${Math.round(a[3]+(b[3]-a[3])*f)})`;
    }
  }
  return '#f00000';
}
function drawPathway(cfg){
  const g=group(cfg.name);
  const x=v=>cfg.x0+v*cfg.kx, y=v=>cfg.y0-v*cfg.ky;
  pathXTicks.forEach(v=>{
    const l=make(g,'line',{x1:x(v),x2:x(v),y1:5063,y2:6151,stroke:'#2222e0','stroke-width':4});
    
    
    const t=make(g,'text',{x:x(v),y:6216,'font-size':34,'text-anchor':'middle',style:'fill:#333'},v.toFixed(1));
    
    
  });
  cfg.yt.forEach(v=>{
    const l=make(g,'line',{x1:cfg.axisX,x2:cfg.right,y1:y(v),y2:y(v),stroke:'#2222e0','stroke-width':4});
    
    
    const m=make(g,'line',{x1:cfg.axisX-21,x2:cfg.axisX,y1:y(v),y2:y(v),stroke:'#333','stroke-width':3});
    
    
    const t=make(g,'text',{transform:`translate(${cfg.axisX-57} ${y(v)}) rotate(-90)`,'font-size':34,'text-anchor':'middle',style:'fill:#333'},v);
    
    
  });
  const ya=make(g,'line',{x1:cfg.axisX,x2:cfg.axisX,y1:y(cfg.yt[cfg.yt.length-1]),y2:y(0),stroke:'#333','stroke-width':3});
  
  
  const xa=make(g,'line',{x1:x(0),x2:x(1.5),y1:6151,y2:6151,stroke:'#333','stroke-width':3.5});
  
  
  cfg.pts.forEach(p=>{
    const c=make(g,'circle',{cx:x(p[0]),cy:y(p[1]),r:(4.5+11*Math.sqrt(p[0]))*.92,fill:pathColor(p[1]),stroke:'#111','stroke-width':3});
    
    
  });
}
drawPathway({name:'pathway-u87',x0:1782,kx:615,y0:6120,ky:50,axisX:1763,right:2847,yt:u87PathYTicks,pts:u87Pathways});
drawPathway({name:'pathway-nch644',x0:3198,kx:617.3,y0:6117,ky:33.3,axisX:3183,right:4268,yt:nchPathYTicks,pts:nchPathways});
</script>
</body>
</html>
